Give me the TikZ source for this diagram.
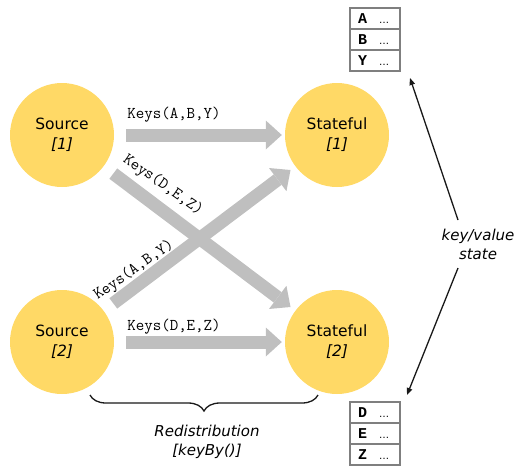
\documentclass[tikz,border=0pt]{standalone}
\usepackage{fontspec}
\setmainfont{DejaVu Sans}
\newfontfamily\cellfont{Liberation Mono}
\usetikzlibrary{arrows.meta,decorations.pathreplacing}
\definecolor{circ}{HTML}{FFD966}
\definecolor{agray}{HTML}{BFBFBF}
\definecolor{tgray}{HTML}{7F7F7F}
\newcommand\cellc[1]{\makebox[34pt][l]{#1\hfill{\mdseries\rmfamily\fontsize{10}{10}\selectfont\dots}\hspace{3pt}}}
\begin{document}
\begin{tikzpicture}[x=1pt,y=-1pt,
  proc/.style={circle, fill=circ, minimum size=104pt, inner sep=0pt, align=center, font=\fontsize{15.5}{20}\selectfont},
  flow/.style={draw=agray, line width=13pt, -{Triangle[length=16pt,width=29pt,line width=0pt]}, shorten <=12pt, shorten >=3pt},
  keys/.style={font=\ttfamily\fontsize{16.5}{18}\selectfont, inner sep=0pt},
  cell/.style={draw=tgray, line width=1.2pt, minimum width=50pt, minimum height=21pt, inner sep=0pt, font=\cellfont\bfseries\fontsize{15}{15}\selectfont},
  ptr/.style={line width=1.3pt, draw=black!90, -{Triangle[length=7pt,width=5.5pt]}},
  lab/.style={font=\itshape\fontsize{15}{19}\selectfont, align=center, inner sep=1pt}
]
\useasboundingbox (0,0) rectangle (519,471);

\node[proc] (s1) at (62,135) {Source\\\textit{[1]}};
\node[proc] (s2) at (62,342) {Source\\\textit{[2]}};
\node[proc] (t1) at (337,135) {Stateful\\\textit{[1]}};
\node[proc] (t2) at (337,342) {Stateful\\\textit{[2]}};

\draw[flow] (s1) -- (t1);
\draw[flow] (s2) -- (t2);
\draw[flow, shorten >=6pt] (s1) -- (t2);
\draw[flow, shorten >=6pt] (s2) -- (t1);

\node[keys] (l1) at (174,115) {Keys(A,B,Y)};
\node[keys] (l2) at (174,327) {Keys(D,E,Z)};
\node[keys, rotate=-35] (l3) at (163,185) {Keys(D,E,Z)};
\node[keys, rotate=35] (l4) at (134,270) {Keys(A,B,Y)};

\node[cell] (ta) at (375,18.5) {\cellc{A}};
\node[cell] (tb) at (375,39.5) {\cellc{B}};
\node[cell] (ty) at (375,60.5) {\cellc{Y}};
\node[cell] (td) at (375,412.5) {\cellc{D}};
\node[cell] (te) at (375,433.5) {\cellc{E}};
\node[cell] (tz) at (375,454.5) {\cellc{Z}};

\node[lab] (kv) at (478,244) {key/value\\state};
\coordinate (k1) at (458,220);
\coordinate (k2) at (458,268);
\coordinate (e1) at (410,78);
\coordinate (e2) at (407,395);
\draw[ptr] (k1) -- (e1);
\draw[ptr] (k2) -- (e2);

\coordinate (b1) at (90,395);
\coordinate (b2) at (318,395);
\draw[decorate, decoration={brace,mirror,amplitude=16pt}, line width=1.3pt, draw=black!90] (b1) -- (b2);
\node[lab] (rd) at (207,442) {Redistribution\\{[keyBy()]}};
\end{tikzpicture}
\end{document}
